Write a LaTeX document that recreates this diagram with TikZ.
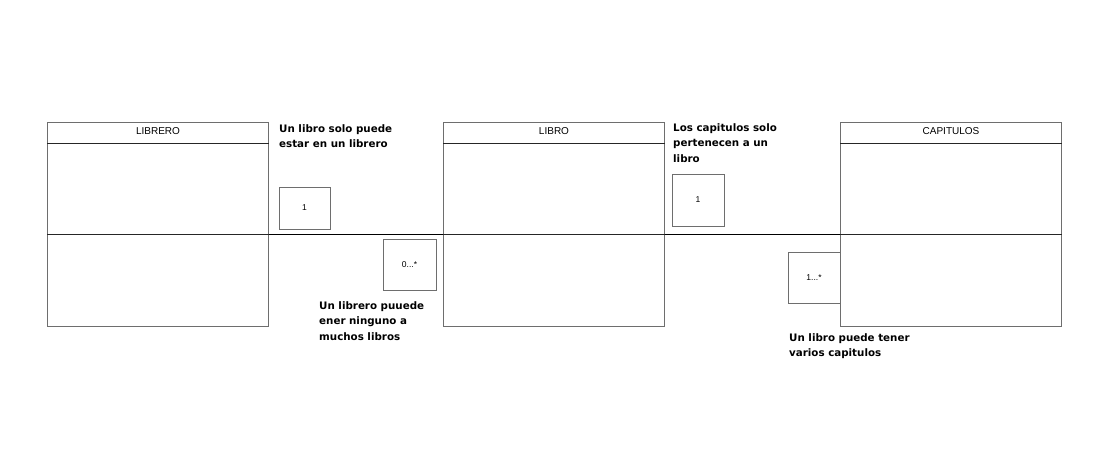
\documentclass[tikz,border=0pt]{standalone}
\usepackage{fontspec}
\setmainfont{Liberation Sans}
\newfontfamily\notefont{DejaVu Sans}
\usetikzlibrary{calc}
\definecolor{boxgray}{HTML}{6E6E6E}
\tikzset{
  entity/.style={draw=boxgray, line width=1pt, fill=white, minimum width=221pt, minimum height=204pt, anchor=north west, inner sep=0pt},
  title/.style={font=\fontsize{10}{12}\selectfont, anchor=center, inner sep=0pt},
  mult/.style={draw=boxgray, line width=1pt, fill=white, inner sep=0pt, font=\fontsize{8.5}{10}\selectfont},
  note/.style={font=\notefont\bfseries\fontsize{10.3}{15.5}\selectfont, align=left, anchor=north west, inner sep=0pt},
  divider/.style={draw=black!85, line width=0.9pt},
  link/.style={draw=black, line width=0.9pt}
}
\begin{document}
\begin{tikzpicture}[x=1pt,y=-1pt]
\useasboundingbox[fill=white] (0,0) rectangle (1120,448);

% entities
\node[entity] (librero) at (47,122) {};
\node[entity] (libro) at (443,122) {};
\node[entity] (capitulos) at (840,122) {};

\foreach \e/\t in {librero/LIBRERO, libro/LIBRO, capitulos/CAPITULOS}{
  \coordinate (\e-hw) at ($(\e.north west)+(0,21)$);
  \coordinate (\e-he) at ($(\e.north east)+(0,21)$);
  \coordinate (\e-dw) at ($(\e.north west)+(0,112)$);
  \coordinate (\e-de) at ($(\e.north east)+(0,112)$);
  \draw[divider] (\e-hw) -- (\e-he);
  \draw[divider] (\e-dw) -- (\e-de);
  \node[title] (\e-title) at ($(\e.north)+(0,9)$) {\t};
}

% connectors
\draw[link] (librero-de) -- (libro-dw);
\draw[link] (libro-de) -- (capitulos-dw);

% multiplicity boxes
\node[mult, minimum width=51pt, minimum height=42pt] (m1) at (304.5,208) {1};
\node[mult, minimum width=53pt, minimum height=51pt] (m2) at (409.5,264.5) {0...*};
\node[mult, minimum width=52pt, minimum height=52pt] (m3) at (698,200) {1};
\node[mult, minimum width=52pt, minimum height=51pt] (m4) at (814,277.5) {1...*};

% notes
\node[note] (n1) at (279,124) {Un libro solo puede\\estar en un librero};
\node[note] (n2) at (319,301) {Un librero puuede\\ener ninguno a\\muchos libros};
\node[note] (n3) at (673,123) {Los capitulos solo\\pertenecen a un\\libro};
\node[note] (n4) at (789,333) {Un libro puede tener\\varios capitulos};
\end{tikzpicture}
\end{document}
